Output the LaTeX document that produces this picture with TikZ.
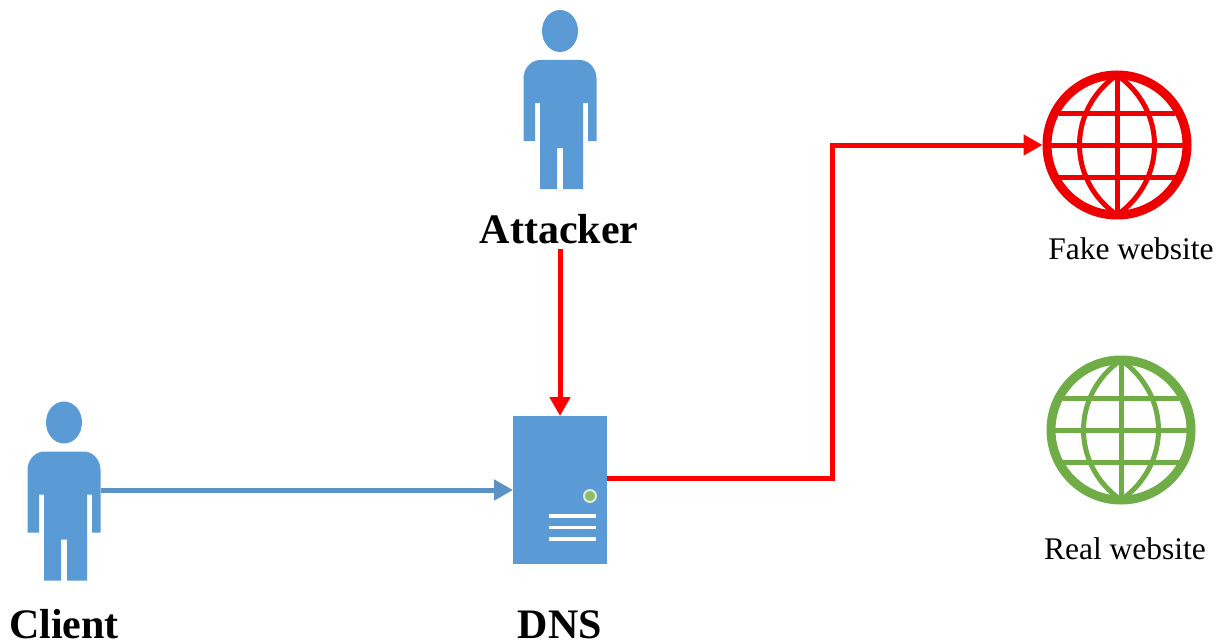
\documentclass[tikz,border=0pt]{standalone}
\usepackage{fontspec}
\setmainfont{Liberation Serif}
\usetikzlibrary{arrows.meta,calc}
\definecolor{iconblue}{HTML}{5B9BD5}
\definecolor{arrowblue}{HTML}{5A93C4}
\definecolor{netgreen}{HTML}{70AD47}
\definecolor{netred}{HTML}{EE0000}
\tikzset{
  x=1pt,y=-1pt,
  boldlabel/.style={font=\fontsize{42}{46}\selectfont\bfseries,text=black,inner sep=0pt,anchor=base},
  weblabel/.style={font=\fontsize{31.5}{34}\selectfont,text=black,inner sep=0pt,anchor=base},
  personbox/.style={minimum width=73pt,minimum height=179pt,inner sep=0pt,outer sep=0pt},
  serverbox/.style={fill=iconblue,minimum width=94pt,minimum height=148pt,inner sep=0pt,outer sep=0pt},
  globebox/.style={circle,minimum size=149pt,inner sep=0pt,outer sep=0pt},
  redflow/.style={draw=red,line width=5pt,-{Triangle[length=19pt,width=20pt]}},
  blueflow/.style={draw=arrowblue,line width=5pt,-{Triangle[length=19pt,width=20pt]}},
  person/.pic={
    \fill[iconblue] (0,-68.5) ellipse[x radius=18pt,y radius=21pt];
    \fill[iconblue] (-36.5,41.5) -- (-36.5,-21) .. controls (-36.5,-32) and (-28,-39.5) .. (-20,-39.5)
      -- (20,-39.5) .. controls (28,-39.5) and (36.5,-32) .. (36.5,-21)
      -- (36.5,41.5) -- (28,41.5) -- (28,3.5) -- (23,3.5) -- (23,89.5) -- (3,89.5) -- (3,48.5) -- (-3,48.5)
      -- (-3,89.5) -- (-20,89.5) -- (-20,3.5) -- (-25,3.5) -- (-25,41.5) -- (-36.5,41.5) -- cycle;
  },
  globe/.pic={
    \draw[line width=9pt] (0,0) circle[radius=70pt];
    \draw[line width=5pt] (0,-70) .. controls (-50,-35) and (-50,35) .. (0,70)
      .. controls (50,35) and (50,-35) .. (0,-70);
    \draw[line width=5pt] (0,-70) -- (0,70);
    \draw[line width=5pt] (-70,0) -- (70,0);
    \draw[line width=5pt] (-58,-32) -- (58,-32);
    \draw[line width=5pt] (-58,32) -- (58,32);
  }
}
\begin{document}
\begin{tikzpicture}
\useasboundingbox (0,0) rectangle (1221,642);
% figures
\node[personbox] (attacker) at (560,99.5) {};
\pic at (attacker.center) {person};
\node[personbox] (client) at (64,491) {};
\pic at (client.center) {person};
\node[serverbox] (server) at (560,490) {};
\fill[netgreen!80!white,draw=white!75!netgreen,line width=2pt] (590,496) circle[radius=6pt];
\draw[white,line width=3.5pt] (549,516) -- (596,516);
\draw[white,line width=3.5pt] (549,527.5) -- (596,527.5);
\draw[white,line width=3.5pt] (549,539) -- (596,539);
\node[globebox] (fake) at (1117,145) {};
\pic[draw=netred] at (fake.center) {globe};
\node[globebox] (real) at (1121,430) {};
\pic[draw=netgreen] at (real.center) {globe};
% labels
\node[boldlabel] (attackerlabel) at (559,243) {Attacker};
\node[boldlabel] (clientlabel) at (64,638) {Client};
\node[boldlabel] (dnslabel) at (560,638) {DNS};
\node[weblabel] (fakelabel) at (1131,259) {Fake website};
\node[weblabel] (reallabel) at (1125,559) {Real website};
% connectors
\coordinate (serverout) at ($(server.east)+(0,-12)$);
\coordinate (attackerout) at ($(attackerlabel.south -| server.north)+(0,5)$);
\draw[blueflow] (client.east |- server.west) -- (server.west);
\draw[redflow] (attackerout) -- (server.north);
\draw[redflow] (serverout) -- (832,478) -- (832,145) -- (fake.west);
\end{tikzpicture}
\end{document}
